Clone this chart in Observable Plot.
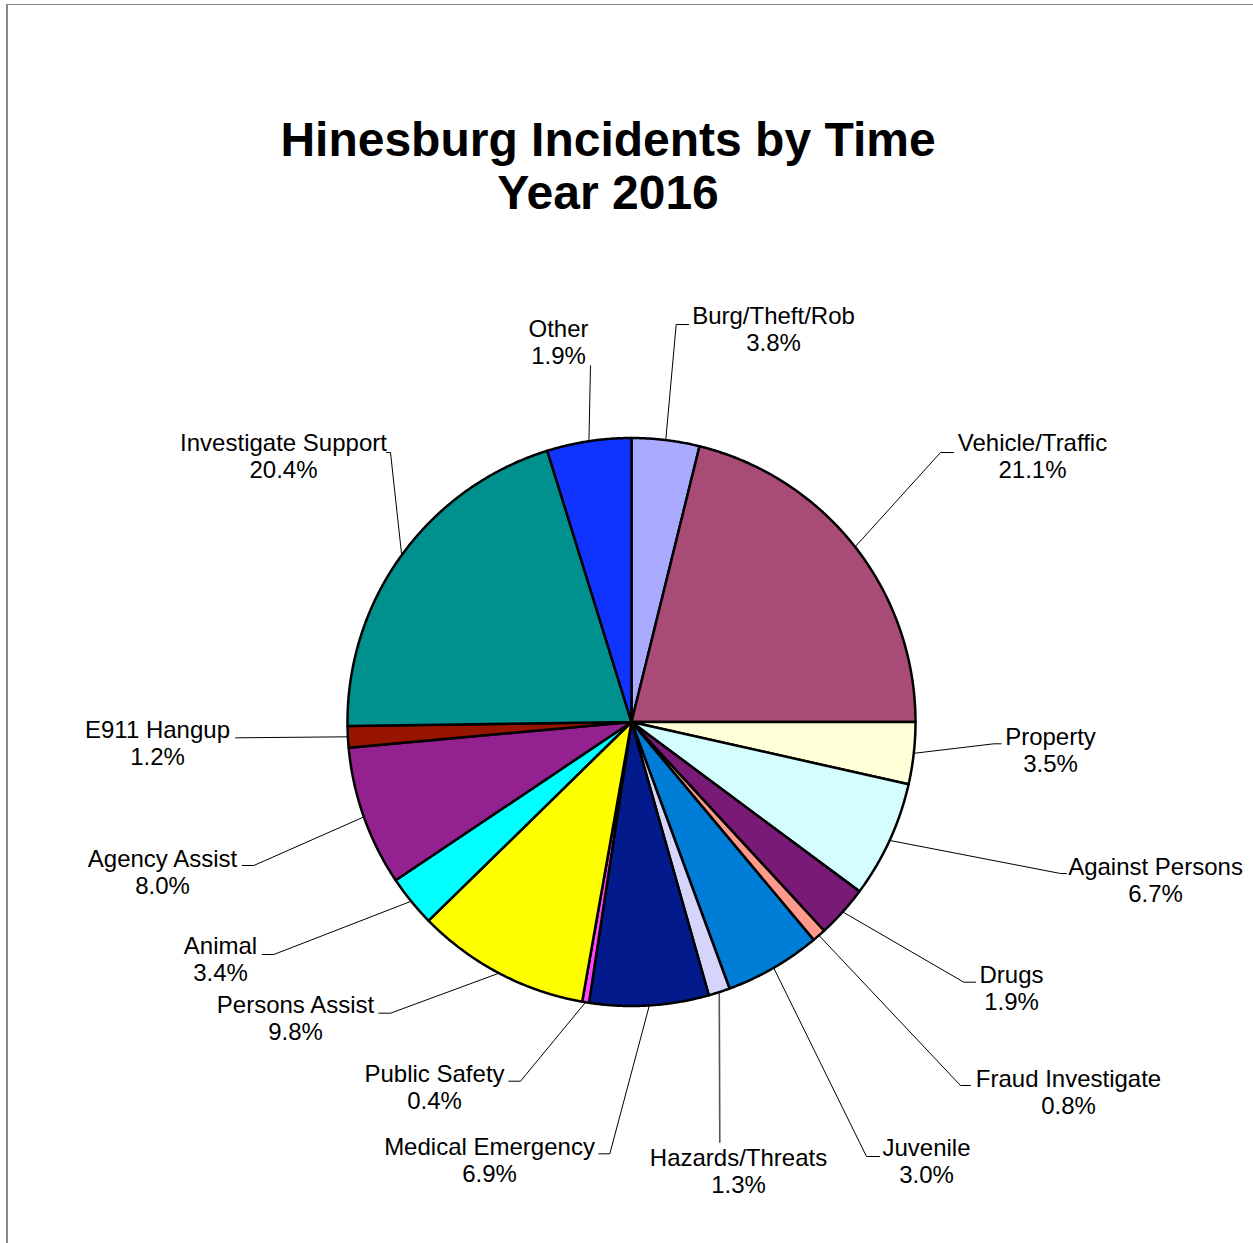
<!DOCTYPE html>
<html>
<head>
<meta charset="utf-8">
<script src="https://cdn.jsdelivr.net/npm/d3@7"></script>
<script src="https://cdn.jsdelivr.net/npm/@observablehq/plot@0.6"></script>
<style>
  html, body { margin: 0; padding: 0; background: #fff; overflow: hidden; }
  #page { position: relative; width: 1253px; height: 1243px; overflow: hidden; background: #fff;
          font-family: "Liberation Sans", Arial, Helvetica, sans-serif; }
  #title { position: absolute; left: 0; top: 113px; width: 1216px; text-align: center;
           font-size: 48px; font-weight: bold; line-height: 53px; color: #000; }
  #chart { position: absolute; left: 0; top: 230px; }
  #frame { position: absolute; left: 6px; top: 4px; width: 3000px; height: 3000px;
           border-left: 2px solid #8a8a8a; border-top: 1.5px solid #8a8a8a; pointer-events: none; }
</style>
</head>
<body>
<div id="page">
  <div id="title">Hinesburg Incidents by Time<br>Year 2016</div>
  <div id="chart"></div>
  <div id="frame"></div>
</div>
<script>
// ---- data ----
const categories = ["Burg/Theft/Rob", "Vehicle/Traffic", "Property", "Against Persons", "Drugs",
  "Fraud Investigate", "Juvenile", "Hazards/Threats", "Medical Emergency", "Public Safety",
  "Persons Assist", "Animal", "Agency Assist", "E911 Hangup", "Investigate Support", "Other"];
// slice sizes as drawn in the picture (share of the full circle, %)
const sliceShares = [3.85, 21.15, 3.52, 6.65, 2.97, 0.78, 5.47, 1.22, 6.78, 0.39, 9.89, 2.92, 7.97, 1.22, 20.43, 4.79];
// percentages as printed on the labels
const labelPercents = ["3.8%", "21.1%", "3.5%", "6.7%", "1.9%", "0.8%", "3.0%", "1.3%", "6.9%", "0.4%",
  "9.8%", "3.4%", "8.0%", "1.2%", "20.4%", "1.9%"];

// ---- styles ----
const sliceColors = ["#aaaaff", "#a84b76", "#ffffd8", "#d4fdfd", "#7a1a77", "#ff998c", "#007dd6", "#d5d5fb",
  "#031a8c", "#ff44ff", "#ffff00", "#00ffff", "#93218f", "#971500", "#00918f", "#1133ff"];

// ---- layout (offsets from pie centre, px) ----
const W = 1253, H = 1013, CX = 631, CY = 491.5, R = 284;
const labelCenters = [[142, -393.5], [401, -266], [419, 27.5], [524, 157.5], [380, 265.5], [437, 369.5],
  [295, 438.5], [107, 449], [-142, 438], [-197, 365], [-336, 296], [-411, 237],
  [-469, 149.5], [-474, 20.5], [-348, -266], [-73, -380]];
const leaderElbows = [[44.7, -397.5], [309, -269.5], [362.3, 21.8], [429, 151.5], [332.3, 260.2], [329, 363.5],
  [235, 434.5], [88.3, 420.2], [-21.7, 431.8], [-111, 359.2], [-241, 291.2], [-357.7, 232.5],
  [-377.7, 143.5], [-394, 15.8], [-241, -269.5], [-41, -356.5]];
const leaderEnds = [[57, -397.5], [322, -269.5], [369.7, 21.8], [435, 151.5], [344, 260.2], [339, 363.5],
  [248, 434.5], [88.3, 420.2], [-32.7, 431.8], [-122.7, 359.2], [-252.7, 291.2], [-369.3, 232.5],
  [-389.3, 143.5], [-396, 15.8], [-245, -269.5], [-41, -356.5]];

// ---- build ----
const rows = categories.map((name, i) => ({name, share: sliceShares[i], pct: labelPercents[i], i}));
const arcs = d3.pie().sort(null).value(d => d.share).startAngle(0).endAngle(2 * Math.PI)(rows);
const pt = (a, r) => ({x: r * Math.sin(a), y: -r * Math.cos(a)});

const slicePts = [];
for (const a of arcs) {
  const n = Math.max(2, Math.ceil((a.endAngle - a.startAngle) / (Math.PI / 720)));
  slicePts.push({name: a.data.name, x: 0, y: 0});
  for (let k = 0; k <= n; k++) {
    const p = pt(a.startAngle + (a.endAngle - a.startAngle) * k / n, R);
    slicePts.push({name: a.data.name, ...p});
  }
}

const leaderPts = [];
for (const a of arcs) {
  const i = a.data.i, mid = (a.startAngle + a.endAngle) / 2;
  const p = pt(mid, R);
  leaderPts.push({name: a.data.name, x: p.x, y: p.y});
  leaderPts.push({name: a.data.name, x: leaderElbows[i][0], y: leaderElbows[i][1]});
  leaderPts.push({name: a.data.name, x: leaderEnds[i][0], y: leaderEnds[i][1]});
}

const labels = rows.map(d => ({name: d.name, pct: d.pct, x: labelCenters[d.i][0], y: labelCenters[d.i][1]}));

const chart = Plot.plot({
  width: W, height: H, margin: 0,
  style: {background: "transparent", fontFamily: "'Liberation Sans', Arial, sans-serif"},
  x: {domain: [-CX, W - CX], range: [0, W], axis: null},
  y: {domain: [-CY, H - CY], range: [0, H], axis: null},
  color: {domain: categories, range: sliceColors},
  marks: [
    Plot.line(leaderPts.filter(d => d.name !== "Hazards/Threats"),
      {x: "x", y: "y", z: "name", stroke: "#000", strokeWidth: 1}),
    Plot.line(leaderPts.filter(d => d.name === "Hazards/Threats"),
      {x: "x", y: "y", z: "name", stroke: "#555", strokeWidth: 1.6}),
    Plot.line(slicePts, {x: "x", y: "y", z: "name", fill: "name", stroke: "#000", strokeWidth: 2.5,
      strokeLinejoin: "round", curve: "linear-closed"}),
    Plot.text(labels, {x: "x", y: "y", text: d => d.name + "\n" + d.pct, fontSize: 24, lineHeight: 1.13,
      textAnchor: "middle", lineAnchor: "middle", fill: "#000"})
  ]
});
document.getElementById("chart").appendChild(chart);
</script>
</body>
</html>
